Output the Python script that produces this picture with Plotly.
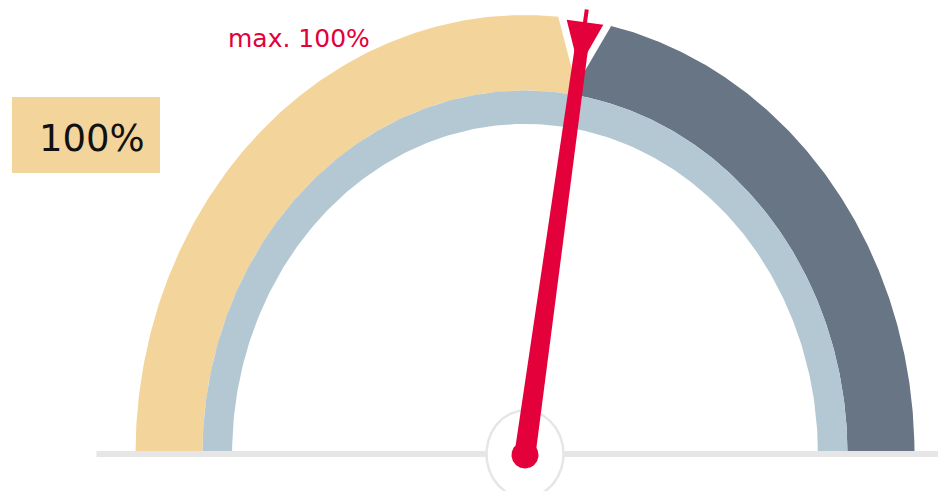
import numpy as np
import plotly.graph_objects as go

# ---- data ----
value = 100
max_value = 100
gauge_min = 0
gauge_max = 182
value_label = "100%"
max_label = "max. 100%"

# ---- style ----
TAN = "#f3d49b"
DARK = "#687585"
LIGHT = "#b4c8d4"
RED = "#e4003a"
GRAY = "#e6e6e6"

W, H = 946, 491
OFF = 8  # page body margin
CX, CY = 525.0, 454.0
RX = 389.5
RY = RX * 1.127
R_OUT, R_MID, R_IN = 1.0, 0.828, 0.752


def theta_of(v):
    return np.pi * (1 - (v - gauge_min) / (gauge_max - gauge_min))


def pt(r, th):
    return CX + RX * r * np.cos(th), CY - RY * r * np.sin(th)


def band(r0, r1, th0, th1, n=240):
    t = np.linspace(th0, th1, n)
    xo, yo = pt(r1, t)
    xi, yi = pt(r0, t[::-1])
    return np.concatenate([xo, xi, [xo[0]]]), np.concatenate([yo, yi, [yo[0]]])


fig = go.Figure()


def poly(x, y, fill, line_color=None, line_width=0):
    fig.add_trace(go.Scatter(
        x=x, y=y, mode="lines", fill="toself", fillcolor=fill,
        line=dict(color=line_color or fill, width=line_width),
        hoverinfo="skip", showlegend=False))


th_v = theta_of(value)
th_m = theta_of(max_value)

# bands
bx, by = band(R_MID, R_OUT, np.pi, th_v)
poly(bx, by, TAN)
bx, by = band(R_MID, R_OUT, th_v, 0)
poly(bx, by, DARK)
bx, by = band(R_IN, R_MID, np.pi, 0)
poly(bx, by, LIGHT)

# baseline
fig.add_trace(go.Scatter(x=[CX - RX - 39, W + 20], y=[CY, CY], mode="lines",
                         line=dict(color=GRAY, width=6), hoverinfo="skip", showlegend=False))

# hub circle
t = np.linspace(0, 2 * np.pi, 200)
poly(CX + 38.5 * np.cos(t), CY - 43.5 * np.sin(t), "white", GRAY, 2.5)


def direction(th):
    d = np.array([RX * np.cos(th), -RY * np.sin(th)])
    d = d / np.linalg.norm(d)
    p = np.array([-d[1], d[0]])
    return d, p


C = np.array([CX, CY])


def tri_pts(d, p, base, depth, half):
    B = C + d * base
    A = C + d * (base - depth)
    q = [B + p * half, A, B - p * half, B + p * half]
    return [v[0] for v in q], [v[1] for v in q]


# max marker triangle (white halo + red)
dm, pm = direction(th_m)
L_edge = np.linalg.norm(np.array(pt(R_OUT, th_m)) - C)
tx, ty = tri_pts(dm, pm, L_edge + 4, 70, 29)
poly(tx, ty, "white")
tx, ty = tri_pts(dm, pm, L_edge - 2, 46, 18.5)
poly(tx, ty, RED)

# needle
dv, pv = direction(th_v)
L1 = L_edge - 4
needle = [C + pv * 10.5, C + dv * L1 + pv * 6.5, C + dv * L1 - pv * 6.5, C - pv * 10.5, C + pv * 10.5]
poly([q[0] for q in needle], [q[1] for q in needle], RED)
tip0 = C + dv * (L1 - 2)
tip1 = C + dv * (L_edge + 11)
fig.add_trace(go.Scatter(x=[tip0[0], tip1[0]], y=[tip0[1], tip1[1]], mode="lines",
                         line=dict(color=RED, width=4), hoverinfo="skip", showlegend=False))
# needle base dot
poly(CX + 13.5 * np.cos(t), CY + 1 - 13.5 * np.sin(t), RED)

# value box
fig.add_shape(type="rect", x0=12, x1=160, y0=97, y1=173, fillcolor=TAN, line=dict(width=0), layer="below")
fig.add_annotation(x=92, y=138, text=value_label, showarrow=False, xanchor="center", yanchor="middle",
                   font=dict(family="DejaVu Sans", size=37, color="#111111"))
# max label
fig.add_annotation(x=299, y=38, text=max_label, showarrow=False, xanchor="center", yanchor="middle",
                   font=dict(family="DejaVu Sans", size=25, color=RED))

fig.update_layout(
    width=W - OFF, height=H - OFF, margin=dict(l=0, r=0, t=0, b=0),
    paper_bgcolor="white", plot_bgcolor="white",
    xaxis=dict(range=[OFF, W], visible=False, fixedrange=True),
    yaxis=dict(range=[H, OFF], visible=False, fixedrange=True),
    showlegend=False, hovermode=False,
)
fig.write_html("out.html")
